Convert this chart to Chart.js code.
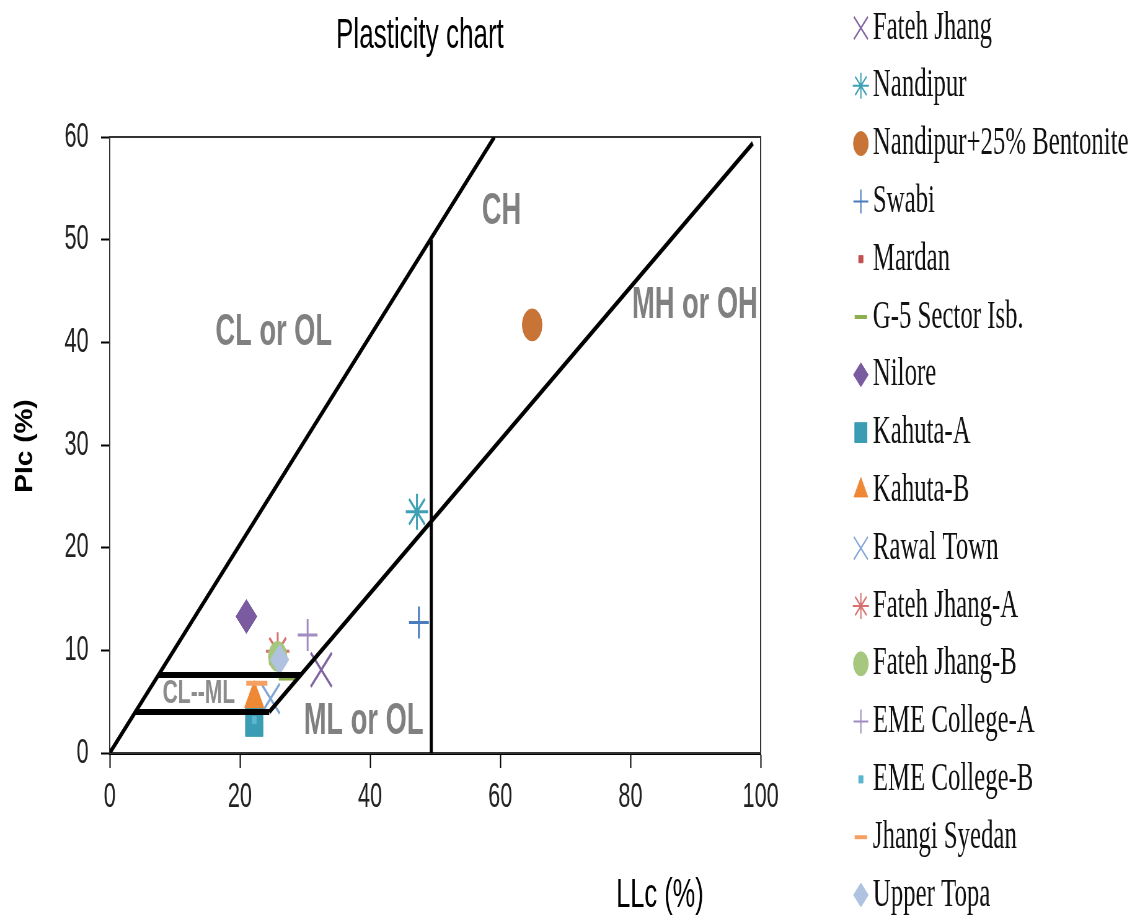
<!DOCTYPE html>
<html>
<head>
<meta charset="utf-8">
<title>Plasticity chart</title>
<script src="https://cdn.jsdelivr.net/npm/chart.js@4.4.0/dist/chart.umd.min.js"></script>
<style>
  html, body { margin: 0; padding: 0; background: #fff; overflow: hidden; }
</style>
</head>
<body>
<!-- the original picture is squeezed sideways, so the canvas is drawn wide and shown at 1140px -->
<canvas id="plasticity" width="1839" height="919" style="display:block;width:1140px;height:919px"></canvas>
<script>
// samples, in legend order
var samples = ['Fateh Jhang', 'Nandipur', 'Nandipur+25% Bentonite', 'Swabi', 'Mardan',
  'G-5 Sector Isb.', 'Nilore', 'Kahuta-A', 'Kahuta-B', 'Rawal Town', 'Fateh Jhang-A',
  'Fateh Jhang-B', 'EME College-A', 'EME College-B', 'Jhangi Syedan', 'Upper Topa'];
// liquid limit LLc (%)
var llValues = [32.5, 47.2, 64.9, 47.5, 25.8, 27.3, 21.0, 22.2, 22.2, 24.7, 25.8, 25.8, 30.4, 22.2, 22.6, 26.1];
// plasticity index PIc (%)
var piValues = [8.1, 23.5, 41.7, 12.7, 9.6, 7.3, 13.3, 3.0, 5.3, 5.3, 9.9, 9.4, 11.5, 3.2, 6.8, 9.1];

// classification lines as drawn on the chart
var uLine = [{x: 0, y: 0}, {x: 59.1, y: 60}];
var aLine = [{x: 24.5, y: 4.0}, {x: 98.8, y: 59.4}];
var llFifty = [{x: 49.4, y: 0}, {x: 49.4, y: 50}];
var clmlTop = [{x: 7.5, y: 7.6}, {x: 29.4, y: 7.6}];
var clmlBottom = [{x: 4.0, y: 4.0}, {x: 24.5, y: 4.0}];

var xTicks = [0, 20, 40, 60, 80, 100];
var yTicks = [0, 10, 20, 30, 40, 50, 60];

// zone names and where they sit (LL, PI)
var zoneNames = ['CL or OL', 'CH', 'MH or OH', 'CL--ML', 'ML or OL'];
var zoneLL = [25.2, 60.2, 89.9, 13.7, 39.0];
var zonePI = [40.9, 52.7, 43.6, 5.8, 3.0];

var SX = 0.62; // horizontal squeeze of the reference picture

var markers = [
  {shape: 'crossRot', color: '#7F63A1', r: 24, lr: 16, bw: 3},
  {shape: 'star', color: '#3E9FB5', r: 18, lr: 13, bw: 3},
  {shape: 'circle', color: '#C87437', r: 16, lr: 12, bw: 1},
  {shape: 'cross', color: '#4A7CBD', r: 16, lr: 12, bw: 3},
  {shape: 'rect', color: '#C0504D', r: 5, lr: 5, bw: 1},
  {shape: 'line', color: '#8DB04F', r: 14, lr: 10, bw: 5},
  {shape: 'rectRot', color: '#7A5BA0', r: 17, lr: 12, bw: 1},
  {shape: 'rect', color: '#3A9DB3', r: 20, lr: 14, bw: 1},
  {shape: 'triangle', color: '#EE8834', r: 18, lr: 13, bw: 1},
  {shape: 'crossRot', color: '#7FA4D6', r: 21, lr: 16, bw: 3},
  {shape: 'star', color: '#D6716E', r: 19, lr: 13, bw: 3},
  {shape: 'circle', color: '#A6C77E', r: 15, lr: 12, bw: 1},
  {shape: 'cross', color: '#A08CC0', r: 16, lr: 12, bw: 3},
  {shape: 'rect', color: '#5BB6CE', r: 5, lr: 5, bw: 1},
  {shape: 'line', color: '#F5A063', r: 17, lr: 10, bw: 5},
  {shape: 'rectRot', color: '#AFC2DF', r: 15, lr: 12, bw: 1}
];

var datasets = samples.map(function (name, i) {
  var m = markers[i];
  return {
    label: name,
    data: [{x: llValues[i], y: piValues[i]}],
    pointStyle: m.shape,
    pointRadius: m.r,
    pointHoverRadius: m.r,
    pointBackgroundColor: m.color,
    pointBorderColor: m.color,
    pointBorderWidth: m.bw,
    order: 100 - i
  };
});

function refLine(points, width) {
  return {
    label: '',
    data: points,
    showLine: true,
    borderColor: '#000',
    borderWidth: width,
    pointRadius: 0,
    pointHoverRadius: 0,
    fill: false,
    order: 0
  };
}
datasets.push(refLine(uLine, 5), refLine(aLine, 5), refLine(llFifty, 5),
  refLine(clmlTop, 6), refLine(clmlBottom, 6));

var SANS = "'Liberation Sans', Arial, sans-serif";
var SERIF = "'Liberation Serif', 'Times New Roman', serif";

var decor = {
  id: 'decor',
  beforeDatasetsDraw: function (chart) {
    var a = chart.chartArea, ctx = chart.ctx;
    ctx.save();
    ctx.strokeStyle = '#333';
    ctx.lineWidth = 2;
    ctx.strokeRect(a.left, a.top, a.right - a.left, a.bottom - a.top);
    ctx.restore();
  },
  afterDatasetsDraw: function (chart) {
    var ctx = chart.ctx, xs = chart.scales.x, ys = chart.scales.y;
    ctx.save();
    ctx.textAlign = 'center';
    ctx.textBaseline = 'middle';
    zoneNames.forEach(function (t, i) {
      ctx.font = (t === 'CL--ML' ? 'bold 34px ' : 'bold 44px ') + SANS;
      ctx.fillStyle = t === 'CL--ML' ? '#8c8c8c' : '#808080';
      ctx.fillText(t, xs.getPixelForValue(zoneLL[i]), ys.getPixelForValue(zonePI[i]));
    });
    ctx.restore();
  },
  afterDraw: function (chart) {
    var ctx = chart.ctx;
    ctx.save();
    ctx.fillStyle = '#000';
    ctx.textAlign = 'center';
    ctx.textBaseline = 'alphabetic';
    ctx.font = '42px ' + SANS;
    ctx.fillText('Plasticity chart', 420 / SX, 48);
    ctx.font = '41px ' + SANS;
    ctx.fillText('LLc (%)', 660 / SX, 907);

    // y axis title, rotated
    ctx.save();
    ctx.translate(25 / SX, 446);
    ctx.rotate(-Math.PI / 2);
    ctx.scale(1, 1.45);
    ctx.font = 'bold 28px ' + SANS;
    ctx.textBaseline = 'middle';
    ctx.fillText('PIc (%)', 0, 0);
    ctx.restore();

    // legend
    var h = Chart.helpers;
    ctx.textAlign = 'left';
    ctx.textBaseline = 'middle';
    ctx.font = '40px ' + SERIF;
    samples.forEach(function (name, i) {
      var m = markers[i];
      var y = 28 + i * 57.8;
      var x = 861 / SX;
      ctx.fillStyle = m.color;
      ctx.strokeStyle = m.color;
      ctx.lineWidth = m.shape === 'line' ? 4 : (m.bw > 1 ? 2 : 1);
      if (h && h.drawPoint) {
        h.drawPoint(ctx, {pointStyle: m.shape, radius: m.lr, rotation: 0, borderWidth: ctx.lineWidth}, x, y);
      } else {
        ctx.beginPath();
        ctx.arc(x, y, m.lr, 0, 2 * Math.PI);
        ctx.fill();
      }
      ctx.fillStyle = '#111';
      ctx.fillText(name, 873 / SX, y);
    });
    ctx.restore();
  }
};

var canvas = document.getElementById('plasticity');
var chart = new Chart(canvas, {
  type: 'scatter',
  data: {datasets: datasets},
  options: {
    responsive: false,
    animation: false,
    events: [],
    layout: {padding: {left: 0, top: 137, right: 1839 - Math.round(761 / SX), bottom: 86}},
    plugins: {
      legend: {display: false},
      title: {display: false},
      tooltip: {enabled: false}
    },
    scales: {
      x: {
        type: 'linear',
        min: 0,
        max: 100,
        afterFit: function (scale) { scale.height = 80; },
        afterBuildTicks: function (scale) {
          scale.ticks = xTicks.map(function (v) { return {value: v}; });
        },
        grid: {drawOnChartArea: false, drawTicks: true, tickLength: 15, tickWidth: 2, color: '#000'},
        border: {color: '#000', width: 3},
        ticks: {color: '#222', padding: 8, font: {family: SANS, size: 35}}
      },
      y: {
        type: 'linear',
        min: 0,
        max: 60,
        afterFit: function (scale) { scale.width = Math.round(110 / SX); },
        afterBuildTicks: function (scale) {
          scale.ticks = yTicks.map(function (v) { return {value: v}; });
        },
        grid: {drawOnChartArea: false, drawTicks: true, tickLength: 14, tickWidth: 2, color: '#000'},
        border: {color: '#000', width: 2},
        ticks: {color: '#222', padding: 20, font: {family: SANS, size: 35}}
      }
    }
  },
  plugins: [decor]
});
// keep the squeezed display size
canvas.style.width = '1140px';
canvas.style.height = '919px';
</script>
</body>
</html>
